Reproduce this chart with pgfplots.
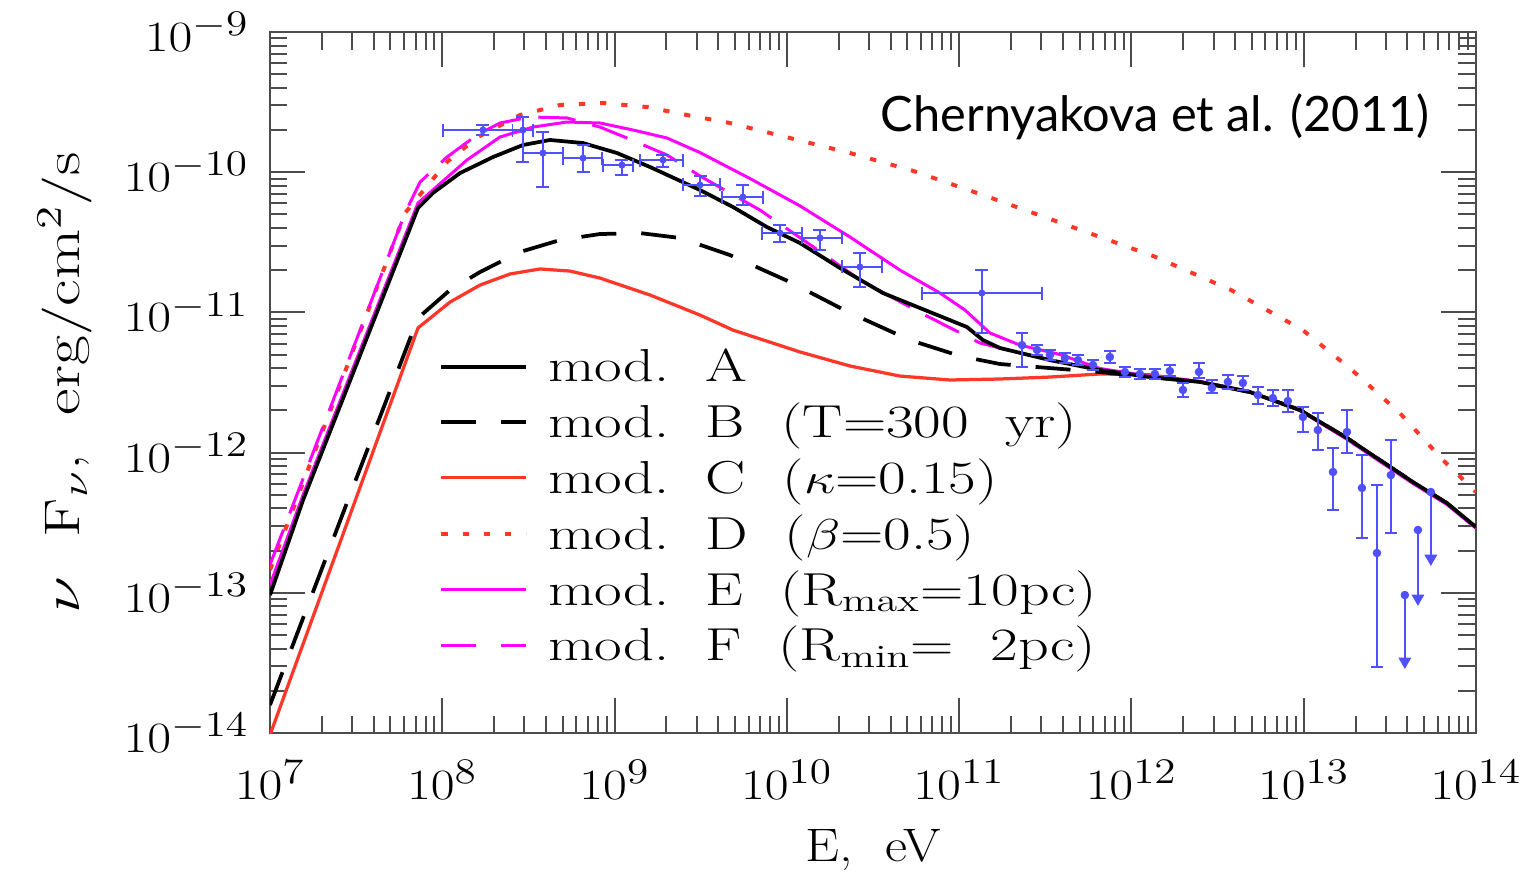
\documentclass[border=0pt]{standalone}
\usepackage{pgfplots}
\pgfplotsset{compat=1.18}
\usepackage{graphicx}
\usepackage{fontspec}
\newfontfamily\titlefont{Lato}
\definecolor{dblue}{RGB}{80,80,255}
\definecolor{mred}{RGB}{255,55,40}
\definecolor{mmag}{RGB}{255,0,255}
\newcommand{\W}[1]{\scalebox{1.3}[1]{#1}}
\newcommand{\T}[1]{\scalebox{1.2}[1]{#1}}
\newcommand{\bigf}{\fontsize{18.8}{22}\selectfont}
\begin{document}
\begin{tikzpicture}
\begin{axis}[
 scale only axis, width=482.4pt, height=280.4pt,
 xmin=7, xmax=14, ymin=-14, ymax=-9,
 xtick={7,8,9,10,11,12,13,14},
 xticklabels={\T{$10^{7}$},\T{$10^{8}$},\T{$10^{9}$},\T{$10^{10}$},\T{$10^{11}$},\T{$10^{12}$},\T{$10^{13}$},\T{$10^{14}$}},
 ytick={-14,-13,-12,-11,-10,-9},
 yticklabels={\T{$10^{-14}$},\T{$10^{-13}$},\T{$10^{-12}$},\T{$10^{-11}$},\T{$10^{-10}$},\T{$10^{-9}$}},
 minor xtick={7.30103,7.47712,7.60206,7.69897,7.77815,7.84510,7.90309,7.95424,
 8.30103,8.47712,8.60206,8.69897,8.77815,8.84510,8.90309,8.95424,
 9.30103,9.47712,9.60206,9.69897,9.77815,9.84510,9.90309,9.95424,
 10.30103,10.47712,10.60206,10.69897,10.77815,10.84510,10.90309,10.95424,
 11.30103,11.47712,11.60206,11.69897,11.77815,11.84510,11.90309,11.95424,
 12.30103,12.47712,12.60206,12.69897,12.77815,12.84510,12.90309,12.95424,
 13.30103,13.47712,13.60206,13.69897,13.77815,13.84510,13.90309,13.95424},
 minor ytick={-13.69897,-13.52288,-13.39794,-13.30103,-13.22185,-13.15490,-13.09691,-13.04576,
 -12.69897,-12.52288,-12.39794,-12.30103,-12.22185,-12.15490,-12.09691,-12.04576,
 -11.69897,-11.52288,-11.39794,-11.30103,-11.22185,-11.15490,-11.09691,-11.04576,
 -10.69897,-10.52288,-10.39794,-10.30103,-10.22185,-10.15490,-10.09691,-10.04576,
 -9.69897,-9.52288,-9.39794,-9.30103,-9.22185,-9.15490,-9.09691,-9.04576},
 major tick length=14pt, minor tick length=7pt,
 tick align=inside, xtick pos=both, ytick pos=both,
 axis line style={black!70, line width=1pt},
 every tick/.style={black!70, line width=0.8pt},
 tick label style={font=\fontsize{19}{22}\selectfont},
 xticklabel style={yshift=-7.5pt},
 yticklabel style={xshift=-5pt},
 xlabel={\scalebox{1.15}[1]{E,\ \ eV}},
 ylabel={\W{$\nu$\ \ F$_{\nu}$,\ \ erg/cm$^{2}$/s}},
 xlabel style={font=\bigf, at={(axis description cs:0.5,-0.167)}, anchor=center},
 ylabel style={font=\fontsize{20}{24}\selectfont, at={(axis description cs:-0.17,0.5)}, anchor=center},
 legend style={at={(0.14,0.556)}, anchor=north west, draw=none, fill=none,
   inner sep=0pt, row sep=3pt, font=\fontsize{18.5}{22}\selectfont},
 legend cell align=left,
 legend image code/.code={\draw[#1] (0pt,0pt) -- (34pt,0pt); \path (40pt,0pt);},
]
\addlegendimage{black, line width=1.5pt}
\addlegendentry{\W{mod.\ \ A}}
\addlegendimage{black, line width=1.5pt, dash pattern=on 14pt off 10pt}
\addlegendentry{\W{mod.\ \ B\ \ (T=300\ \ yr)}}
\addlegendimage{mred, line width=1.3pt}
\addlegendentry{\W{mod.\ \ C\ \ ($\kappa$=0.15)}}
\addlegendimage{mred, line width=1.6pt, dash pattern=on 2.5pt off 6pt}
\addlegendentry{\W{mod.\ \ D\ \ ($\beta$=0.5)}}
\addlegendimage{mmag, line width=1.2pt}
\addlegendentry{\W{mod.\ \ E\ \ (R$_{\mathrm{max}}$=10pc)}}
\addlegendimage{mmag, line width=1.2pt, dash pattern=on 14pt off 10pt}
\addlegendentry{\W{mod.\ \ F\ \ (R$_{\mathrm{min}}$=\ \ 2pc)}}

% mod. D (dotted red)
\addplot[mred, line width=1.6pt, dash pattern=on 2.5pt off 6pt, forget plot] table[x=lx,y=ly] {
lx ly
7.000 -12.837
7.784 -10.291
8.027 -9.927
8.207 -9.749
8.451 -9.592
8.683 -9.521
8.933 -9.506
9.188 -9.535
9.420 -9.592
9.670 -9.649
10.018 -9.756
10.366 -9.863
10.732 -9.990
11.190 -10.185
11.655 -10.390
12.131 -10.600
12.578 -10.840
12.995 -11.126
13.280 -11.411
13.558 -11.718
13.808 -12.053
14.000 -12.281
};
% mod. C (red solid)
\addplot[mred, line width=1.3pt, forget plot] table[x=lx,y=ly] {
lx ly
7.000 -14.014
7.859 -11.111
8.045 -10.926
8.219 -10.805
8.393 -10.726
8.567 -10.690
8.741 -10.705
8.915 -10.755
9.206 -10.876
9.496 -11.019
9.687 -11.126
10.076 -11.282
10.366 -11.382
10.656 -11.454
10.947 -11.482
11.237 -11.475
11.527 -11.461
11.817 -11.439
12.107 -11.445
12.398 -11.496
12.688 -11.568
12.978 -11.696
13.251 -11.896
13.442 -12.053
13.634 -12.210
13.831 -12.360
14.000 -12.531
};
% mod. B (black dashed)
\addplot[black, line width=1.5pt, dash pattern=on 14pt off 10pt, forget plot] table[x=lx,y=ly] {
lx ly
7.000 -13.800
7.453 -12.338
7.859 -11.040
8.045 -10.840
8.219 -10.712
8.451 -10.569
8.683 -10.484
8.915 -10.441
9.147 -10.434
9.380 -10.469
9.670 -10.591
10.018 -10.783
10.355 -10.997
10.714 -11.197
11.005 -11.311
11.237 -11.368
11.527 -11.397
11.817 -11.425
12.107 -11.461
12.398 -11.496
12.688 -11.568
12.978 -11.696
13.251 -11.896
13.442 -12.053
13.634 -12.210
13.831 -12.360
14.000 -12.531
};
% mod. F (magenta dashed)
\addplot[mmag, line width=1.2pt, dash pattern=on 15pt off 7pt, forget plot] table[x=lx,y=ly] {
lx ly
7.000 -12.800
7.784 -10.291
7.871 -10.070
8.027 -9.892
8.201 -9.735
8.335 -9.649
8.509 -9.606
8.724 -9.613
8.915 -9.678
9.072 -9.756
9.304 -9.877
9.496 -10.027
9.844 -10.270
10.163 -10.541
10.424 -10.769
10.802 -11.019
11.121 -11.218
11.237 -11.254
11.527 -11.340
11.817 -11.411
12.107 -11.461
12.398 -11.496
12.688 -11.568
12.978 -11.696
13.251 -11.896
13.442 -12.053
13.634 -12.210
13.831 -12.360
14.000 -12.531
};
% mod. E (magenta solid)
\addplot[mmag, line width=1.2pt, forget plot] table[x=lx,y=ly] {
lx ly
7.000 -12.944
7.192 -12.302
7.859 -10.220
8.143 -9.913
8.335 -9.749
8.526 -9.678
8.724 -9.642
8.915 -9.649
9.107 -9.699
9.304 -9.756
9.496 -9.860
9.786 -10.045
10.076 -10.240
10.366 -10.462
10.656 -10.698
10.889 -10.862
11.034 -10.983
11.179 -11.147
11.353 -11.233
11.585 -11.300
11.817 -11.400
12.107 -11.455
12.398 -11.492
12.688 -11.565
12.978 -11.700
13.251 -11.905
13.442 -12.063
13.634 -12.220
13.831 -12.370
14.000 -12.540
};
% mod. A (black solid)
\addplot[black, line width=1.5pt, forget plot] table[x=lx,y=ly] {
lx ly
7.000 -13.016
7.192 -12.338
7.859 -10.255
7.946 -10.148
8.103 -10.006
8.294 -9.892
8.468 -9.806
8.625 -9.770
8.817 -9.792
9.014 -9.863
9.206 -9.963
9.496 -10.127
9.687 -10.248
9.884 -10.391
10.076 -10.505
10.308 -10.683
10.558 -10.862
11.045 -11.104
11.138 -11.197
11.237 -11.254
11.527 -11.340
11.817 -11.411
12.107 -11.461
12.398 -11.496
12.688 -11.568
12.978 -11.696
13.251 -11.896
13.442 -12.053
13.634 -12.210
13.831 -12.360
14.000 -12.531
};
% Fermi data
\addplot[only marks, mark=*, mark size=1.2pt, color=dblue, forget plot,
  error bars/.cd, x dir=both, x explicit, y dir=both, y explicit,
  error bar style={line width=0.7pt, dblue},
  error mark options={rotate=90, line width=0.7pt, mark size=2.6pt, dblue}]
 table[x=lx, y=ly, x error minus=xm, x error plus=xp, y error minus=ym, y error plus=yp] {
lx ly xm xp ym yp
8.236 -9.699 0.232 0.232 0.036 0.036
8.468 -9.699 0.060 0.060 0.228 0.093
8.584 -9.863 0.116 0.116 0.243 0.150
8.817 -9.899 0.117 0.110 0.100 0.093
9.043 -9.949 0.110 0.064 0.071 0.036
9.281 -9.913 0.134 0.116 0.050 0.036
9.496 -10.091 0.099 0.116 0.079 0.064
9.745 -10.177 0.122 0.116 0.057 0.086
9.960 -10.434 0.105 0.128 0.064 0.057
10.192 -10.469 0.104 0.128 0.086 0.057
10.424 -10.676 0.104 0.128 0.143 0.100
11.132 -10.862 0.348 0.349 0.285 0.164
};
% HESS data
\addplot[only marks, mark=*, mark size=1.5pt, color=dblue, forget plot,
  error bars/.cd, y dir=both, y explicit,
  error bar style={line width=0.8pt, dblue},
  error mark options={rotate=90, line width=0.8pt, mark size=2.4pt, dblue}]
 table[x=lx, y=ly, y error minus=ym, y error plus=yp] {
lx ly ym yp
11.365 -11.233 0.157 0.086
11.452 -11.268 0.036 0.036
11.527 -11.304 0.036 0.036
11.614 -11.325 0.036 0.036
11.690 -11.340 0.036 0.036
11.777 -11.375 0.036 0.036
11.875 -11.318 0.040 0.040
11.962 -11.425 0.036 0.036
12.049 -11.439 0.036 0.036
12.136 -11.439 0.036 0.036
12.223 -11.418 0.036 0.043
12.299 -11.553 0.050 0.050
12.392 -11.425 0.043 0.064
12.467 -11.539 0.036 0.057
12.560 -11.496 0.050 0.050
12.647 -11.503 0.050 0.050
12.734 -11.589 0.064 0.057
12.821 -11.611 0.057 0.057
12.908 -11.632 0.078 0.078
12.995 -11.746 0.107 0.071
13.082 -11.839 0.143 0.121
13.170 -12.138 0.271 0.171
13.251 -11.853 0.150 0.157
13.338 -12.252 0.357 0.235
13.425 -12.716 0.813 0.485
13.506 -12.160 0.414 0.250
};
% HESS upper limits
\addplot[only marks, mark=*, mark size=1.5pt, color=dblue, forget plot,
  error bars/.cd, y dir=minus, y explicit,
  error bar style={line width=0.8pt, dblue},
  error mark=triangle*,
  error mark options={rotate=270, mark size=2.6pt, dblue}]
 table[x=lx, y=ly, y error minus=ym] {
lx ly ym
13.587 -13.016 0.485
13.663 -12.552 0.499
13.738 -12.281 0.485
};
\node[anchor=east, inner sep=0pt, font=\titlefont\fontsize{19.5}{24}\selectfont] at (rel axis cs:0.962,0.879) {Chernyakova et al. (2011)};
\coordinate (SW) at (rel axis cs:0,0);
\end{axis}
\pgfresetboundingbox
\path[use as bounding box] (SW) ++(-108pt,-56pt) rectangle ++(615.2pt,349.2pt);
\end{tikzpicture}
\end{document}
